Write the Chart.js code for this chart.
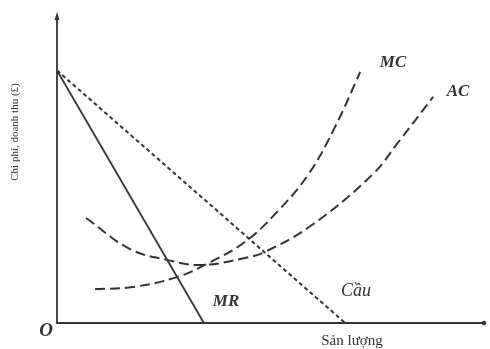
<!DOCTYPE html>
<html>
<head>
<meta charset="utf-8">
<script src="https://cdn.jsdelivr.net/npm/chart.js@4.4.1/dist/chart.umd.min.js"></script>
<style>
  html, body { margin: 0; padding: 0; background: #fff; }
  #wrap { width: 490px; height: 349px; }
</style>
</head>
<body>
<div id="wrap"><canvas id="chart" width="490" height="349"></canvas></div>
<script>
// Dữ liệu (đơn vị tùy ý, trục 0..100)
const demandX = [0, 67.5];
const demandY = [82, 0];
const mrX = [0, 34.4];
const mrY = [82, 0];
const mcX = [8.9, 17.8, 28.1, 35.1, 44.0, 51.5, 58.8, 65.1, 71.0];
const mcY = [11.0, 11.7, 14.9, 19.2, 26.3, 36.0, 48.1, 63.6, 81.5];
const acX = [6.8, 17.1, 25.8, 33.5, 44.0, 48.7, 59.7, 73.8, 80.3, 88.1];
const acY = [34.1, 24.0, 20.5, 18.8, 21.1, 23.1, 31.8, 48.1, 59.4, 73.4];

const ink = '#333';

function pts(xs, ys) {
    return xs.map((x, i) => ({ x: x, y: ys[i] }));
}

// Vẽ trục, mũi tên và nhãn
const diagramPlugin = {
    id: 'diagram',
    afterDatasetsDraw(chart) {
        const ctx = chart.ctx;
        const a = chart.chartArea;
        ctx.save();
        ctx.strokeStyle = ink;
        ctx.fillStyle = ink;
        ctx.lineWidth = 1.8;
        ctx.beginPath();
        ctx.moveTo(a.left, a.top);
        ctx.lineTo(a.left, a.bottom);
        ctx.lineTo(a.right, a.bottom);
        ctx.stroke();
        // mũi tên trục tung
        ctx.beginPath();
        ctx.moveTo(a.left, a.top - 3);
        ctx.lineTo(a.left - 2.5, a.top + 5);
        ctx.lineTo(a.left + 2.5, a.top + 5);
        ctx.closePath();
        ctx.fill();
        // mũi tên trục hoành
        ctx.beginPath();
        ctx.arc(a.right, a.bottom, 2.2, 0, Math.PI * 2);
        ctx.fill();

        ctx.textAlign = 'center';
        ctx.textBaseline = 'middle';
        ctx.font = 'italic bold 17px "Liberation Serif"';
        ctx.fillText('MC', 393, 63);
        ctx.fillText('AC', 458, 92);
        ctx.fillText('MR', 226, 302);
        ctx.font = 'italic 18px "Liberation Serif"';
        ctx.fillText('Cầu', 356, 291);
        ctx.font = 'italic bold 19px "Liberation Serif"';
        ctx.fillText('O', 46, 331);
        ctx.font = '15px "Liberation Serif"';
        ctx.fillText('Sản lượng', 352, 341);
        ctx.translate(15, 132);
        ctx.rotate(-Math.PI / 2);
        ctx.font = '11px "Liberation Serif"';
        ctx.fillText('Chi phí, doanh thu (£)', 0, 0);
        ctx.restore();
    }
};

new Chart(document.getElementById('chart'), {
    type: 'scatter',
    data: {
        datasets: [
            {
                label: 'Cầu',
                data: pts(demandX, demandY),
                showLine: true,
                borderColor: ink,
                borderWidth: 2,
                borderDash: [4, 3],
                pointRadius: 0
            },
            {
                label: 'MR',
                data: pts(mrX, mrY),
                showLine: true,
                borderColor: ink,
                borderWidth: 1.8,
                pointRadius: 0
            },
            {
                label: 'MC',
                data: pts(mcX, mcY),
                showLine: true,
                borderColor: ink,
                borderWidth: 2,
                borderDash: [10, 5],
                tension: 0.4,
                pointRadius: 0
            },
            {
                label: 'AC',
                data: pts(acX, acY),
                showLine: true,
                borderColor: ink,
                borderWidth: 2,
                borderDash: [10, 5],
                tension: 0.4,
                pointRadius: 0
            }
        ]
    },
    options: {
        responsive: false,
        animation: false,
        layout: { padding: { left: 57, right: 6, top: 15, bottom: 26 } },
        plugins: {
            legend: { display: false },
            tooltip: { enabled: false }
        },
        scales: {
            x: { type: 'linear', min: 0, max: 100, display: false },
            y: { type: 'linear', min: 0, max: 100, display: false }
        }
    },
    plugins: [diagramPlugin]
});
</script>
</body>
</html>
